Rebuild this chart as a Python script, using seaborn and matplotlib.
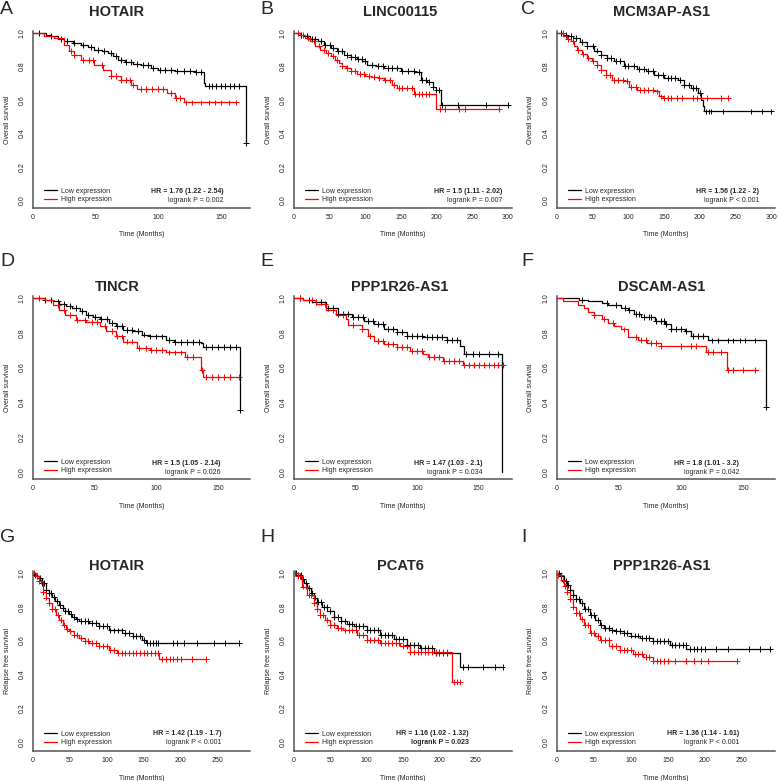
import numpy as np
import pandas as pd
import seaborn as sns
from matplotlib import pyplot as plt
from matplotlib.lines import Line2D

sns.set_style('white')
plt.rcParams['font.family'] = ['Liberation Sans', 'DejaVu Sans']

# ---- step curves (time in months, survival) and censor times ----
a_low_t = [0, 10, 14, 20, 25, 32, 38, 44, 49, 55, 60, 64, 68, 73, 80, 86, 94, 100, 113, 129, 136, 137, 170]
a_low_s = [1.0, 0.99, 0.98, 0.965, 0.95, 0.94, 0.93, 0.915, 0.90, 0.89, 0.88, 0.86, 0.84, 0.824, 0.815, 0.81, 0.79, 0.78, 0.774, 0.764, 0.70, 0.684, 0.34]
a_low_c = [5, 14, 22, 27, 33, 40, 46, 52, 57, 62, 66, 70, 74, 78, 83, 88, 92, 96, 101, 105, 110, 115, 120, 125, 130, 134, 140, 143, 146, 150, 153, 157, 160, 164, 170]
a_high_t = [0, 9, 17, 25, 29, 33, 38, 49, 56, 62, 70, 78, 83, 107, 113, 120, 162]
a_high_s = [1.0, 0.985, 0.97, 0.93, 0.89, 0.87, 0.84, 0.81, 0.776, 0.744, 0.72, 0.69, 0.664, 0.64, 0.61, 0.584, 0.584]
a_high_c = [30, 33, 40, 45, 48, 55, 62, 66, 70, 74, 77, 80, 86, 90, 95, 100, 104, 110, 114, 117, 122, 127, 134, 140, 145, 150, 156, 162]

b_low_t = [0, 8, 14, 22, 33, 42, 52, 60, 70, 80, 89, 96, 103, 115, 127, 150, 169, 178, 187, 195, 199, 206, 300]
b_low_s = [1.0, 0.99, 0.98, 0.965, 0.95, 0.93, 0.91, 0.89, 0.87, 0.855, 0.844, 0.83, 0.81, 0.80, 0.79, 0.774, 0.764, 0.72, 0.704, 0.676, 0.66, 0.57, 0.57]
b_low_c = [10, 18, 25, 30, 38, 44, 50, 55, 62, 68, 74, 80, 86, 90, 95, 100, 110, 118, 125, 132, 138, 145, 152, 160, 168, 175, 180, 185, 190, 195, 200, 204, 208, 230, 270, 300]
b_high_t = [0, 9, 16, 23, 30, 37, 45, 52, 58, 63, 68, 73, 80, 89, 100, 108, 120, 127, 138, 145, 169, 199, 288]
b_high_s = [1.0, 0.99, 0.97, 0.95, 0.925, 0.90, 0.88, 0.86, 0.84, 0.82, 0.80, 0.79, 0.77, 0.756, 0.745, 0.736, 0.728, 0.72, 0.69, 0.67, 0.634, 0.544, 0.544]
b_high_c = [5, 12, 20, 28, 35, 42, 48, 55, 60, 68, 75, 80, 85, 92, 98, 105, 112, 120, 128, 135, 140, 148, 152, 158, 165, 170, 175, 180, 185, 190, 205, 212, 232, 240, 288]

c_low_t = [0, 9, 16, 23, 32, 42, 52, 61, 70, 80, 94, 112, 125, 136, 150, 169, 178, 187, 197, 201, 204, 206, 300]
c_low_s = [1.0, 0.99, 0.98, 0.97, 0.945, 0.92, 0.895, 0.87, 0.85, 0.83, 0.804, 0.786, 0.77, 0.75, 0.73, 0.72, 0.69, 0.67, 0.64, 0.60, 0.564, 0.53, 0.53]
c_low_c = [5, 12, 20, 27, 35, 42, 50, 56, 62, 70, 76, 82, 88, 95, 100, 108, 115, 122, 128, 135, 142, 148, 155, 160, 165, 172, 178, 185, 190, 195, 200, 208, 212, 216, 232, 272, 287, 300]
c_high_t = [0, 9, 14, 19, 24, 28, 35, 42, 49, 56, 62, 68, 77, 94, 101, 112, 136, 143, 148, 239]
c_high_s = [1.0, 0.98, 0.965, 0.95, 0.925, 0.90, 0.875, 0.85, 0.83, 0.81, 0.78, 0.75, 0.72, 0.71, 0.676, 0.66, 0.65, 0.62, 0.61, 0.61]
c_high_c = [8, 15, 22, 30, 36, 44, 50, 56, 62, 68, 74, 80, 86, 92, 98, 104, 110, 116, 122, 128, 134, 140, 146, 150, 155, 160, 168, 175, 190, 196, 210, 230, 239]

d_low_t = [0, 10, 16, 21, 27, 32, 38, 43, 49, 54, 62, 67, 73, 81, 88, 95, 108, 114, 136, 138, 168]
d_low_s = [1.0, 0.99, 0.98, 0.967, 0.955, 0.942, 0.925, 0.904, 0.89, 0.879, 0.856, 0.837, 0.817, 0.808, 0.79, 0.779, 0.76, 0.748, 0.74, 0.72, 0.356]
d_low_c = [10, 15, 20, 25, 30, 35, 40, 45, 50, 55, 60, 64, 68, 72, 76, 80, 85, 90, 95, 100, 105, 110, 115, 120, 125, 130, 135, 140, 145, 150, 155, 160, 165, 168]
d_high_t = [0, 10, 16, 21, 26, 35, 43, 54, 59, 67, 73, 84, 95, 108, 123, 136, 138, 167]
d_high_s = [1.0, 0.987, 0.962, 0.933, 0.904, 0.875, 0.86, 0.84, 0.808, 0.779, 0.75, 0.712, 0.70, 0.687, 0.66, 0.587, 0.548, 0.548]
d_high_c = [5, 20, 25, 30, 36, 42, 48, 52, 58, 64, 68, 72, 76, 80, 86, 92, 96, 100, 105, 110, 115, 120, 125, 130, 137, 140, 145, 150, 155, 160, 167]

e_low_t = [0, 7, 15, 26, 36, 47, 57, 65, 73, 84, 92, 105, 124, 135, 138, 169]
e_low_s = [1.0, 0.99, 0.977, 0.94, 0.91, 0.89, 0.87, 0.85, 0.823, 0.807, 0.784, 0.774, 0.759, 0.726, 0.678, 0.0]
e_low_c = [5, 12, 18, 22, 28, 32, 36, 40, 44, 48, 52, 56, 60, 64, 68, 72, 76, 80, 84, 88, 92, 96, 100, 104, 108, 112, 116, 120, 124, 128, 132, 140, 145, 150, 158, 166]
e_high_t = [0, 7, 18, 26, 34, 42, 44, 55, 60, 65, 73, 84, 94, 105, 109, 121, 137, 170]
e_high_s = [1.0, 0.99, 0.967, 0.93, 0.90, 0.88, 0.846, 0.823, 0.78, 0.755, 0.736, 0.717, 0.697, 0.678, 0.659, 0.64, 0.615, 0.615]
e_high_c = [5, 15, 25, 32, 40, 48, 55, 62, 68, 72, 76, 80, 84, 88, 92, 96, 100, 104, 110, 114, 118, 122, 126, 130, 134, 138, 142, 146, 150, 154, 158, 162, 166, 170]

f_low_t = [0, 18, 25, 36, 41, 52, 57, 62, 68, 79, 87, 92, 103, 108, 122, 169]
f_low_s = [1.0, 0.987, 0.98, 0.973, 0.958, 0.942, 0.929, 0.91, 0.89, 0.87, 0.85, 0.823, 0.808, 0.78, 0.756, 0.375]
f_low_c = [20, 40, 48, 55, 58, 64, 66, 70, 74, 76, 80, 84, 86, 88, 92, 96, 100, 104, 110, 114, 118, 125, 130, 138, 142, 148, 152, 160, 169]
f_high_t = [0, 5, 17, 22, 25, 30, 36, 41, 46, 52, 57, 65, 73, 84, 120, 137, 162]
f_high_s = [1.0, 0.98, 0.96, 0.94, 0.92, 0.90, 0.88, 0.858, 0.838, 0.819, 0.775, 0.76, 0.742, 0.723, 0.69, 0.587, 0.587]
f_high_c = [30, 38, 45, 54, 64, 68, 72, 76, 80, 84, 100, 108, 112, 122, 126, 132, 138, 142, 150, 160]

g_low_t = [0, 1, 4, 8, 12, 17, 21, 26, 30, 35, 40, 44, 49, 53, 58, 62, 76, 90, 103, 121, 135, 148, 153, 279]
g_low_s = [1.0, 0.99, 0.98, 0.97, 0.94, 0.90, 0.88, 0.86, 0.835, 0.81, 0.79, 0.773, 0.755, 0.74, 0.725, 0.714, 0.704, 0.684, 0.66, 0.645, 0.625, 0.606, 0.586, 0.586]
g_low_c = [3, 6, 9, 12, 15, 18, 22, 25, 28, 32, 36, 40, 44, 48, 52, 56, 60, 65, 70, 75, 80, 85, 90, 95, 100, 105, 110, 115, 120, 125, 130, 135, 140, 145, 150, 155, 158, 162, 166, 170, 190, 195, 205, 222, 245, 260, 279]
g_high_t = [0, 4, 8, 13, 17, 22, 26, 31, 35, 40, 45, 49, 55, 62, 70, 76, 90, 103, 114, 171, 234]
g_high_s = [1.0, 0.98, 0.95, 0.89, 0.855, 0.82, 0.785, 0.75, 0.72, 0.69, 0.67, 0.655, 0.635, 0.615, 0.60, 0.586, 0.566, 0.546, 0.527, 0.493, 0.493]
g_high_c = [2, 5, 8, 11, 14, 18, 22, 26, 30, 34, 38, 42, 46, 50, 55, 60, 65, 70, 75, 80, 85, 90, 95, 100, 105, 110, 115, 120, 125, 130, 135, 140, 145, 150, 155, 160, 165, 170, 175, 180, 185, 190, 195, 200, 215, 234]

h_low_t = [0, 5, 10, 14, 18, 23, 28, 32, 39, 46, 55, 64, 73, 82, 100, 119, 137, 155, 173, 192, 228, 287]
h_low_s = [1.0, 0.99, 0.965, 0.94, 0.91, 0.88, 0.855, 0.83, 0.80, 0.773, 0.74, 0.714, 0.70, 0.684, 0.665, 0.635, 0.611, 0.576, 0.556, 0.527, 0.444, 0.444]
h_low_c = [3, 6, 9, 13, 17, 21, 25, 29, 33, 37, 41, 45, 50, 55, 60, 65, 70, 75, 80, 85, 90, 95, 100, 105, 110, 115, 120, 125, 130, 135, 140, 145, 150, 155, 160, 165, 170, 175, 180, 185, 190, 195, 200, 205, 210, 232, 240, 260, 277, 287]
h_high_t = [0, 5, 11, 18, 27, 32, 36, 43, 50, 59, 68, 87, 100, 119, 146, 160, 217, 228]
h_high_s = [1.0, 0.98, 0.92, 0.87, 0.82, 0.785, 0.75, 0.72, 0.69, 0.675, 0.66, 0.635, 0.605, 0.586, 0.566, 0.532, 0.353, 0.353]
h_high_c = [2, 5, 8, 12, 16, 20, 24, 28, 32, 36, 40, 45, 50, 55, 60, 65, 70, 75, 80, 85, 90, 95, 100, 105, 110, 115, 120, 125, 130, 135, 140, 145, 150, 155, 160, 165, 170, 175, 180, 185, 190, 195, 200, 205, 210, 220, 224, 228]

i_low_t = [0, 4, 9, 13, 17, 22, 26, 31, 37, 44, 51, 58, 64, 71, 80, 90, 100, 112, 130, 153, 175, 288]
i_low_s = [1.0, 0.98, 0.955, 0.93, 0.90, 0.87, 0.845, 0.82, 0.785, 0.75, 0.72, 0.69, 0.675, 0.665, 0.655, 0.645, 0.63, 0.615, 0.596, 0.576, 0.55, 0.55]
i_low_c = [3, 6, 9, 12, 15, 18, 22, 26, 30, 34, 38, 42, 46, 50, 55, 60, 65, 70, 75, 80, 85, 90, 95, 100, 105, 110, 115, 120, 125, 130, 135, 140, 145, 150, 155, 160, 165, 170, 174, 180, 185, 190, 195, 200, 215, 232, 260, 275, 288]
i_high_t = [0, 1, 6, 10, 13, 17, 22, 26, 31, 37, 44, 51, 58, 71, 85, 103, 117, 130, 243]
i_high_s = [1.0, 0.99, 0.96, 0.925, 0.89, 0.845, 0.80, 0.765, 0.73, 0.69, 0.645, 0.625, 0.606, 0.566, 0.546, 0.523, 0.503, 0.48, 0.48]
i_high_c = [2, 5, 8, 11, 14, 18, 22, 26, 30, 34, 38, 42, 46, 50, 55, 60, 65, 70, 75, 80, 85, 90, 95, 100, 105, 110, 115, 120, 125, 130, 135, 140, 145, 150, 160, 175, 185, 195, 205, 243]

letters = ['A', 'B', 'C', 'D', 'E', 'F', 'G', 'H', 'I']
genes = ['HOTAIR', 'LINC00115', 'MCM3AP-AS1', 'TINCR', 'PPP1R26-AS1', 'DSCAM-AS1',
         'HOTAIR', 'PCAT6', 'PPP1R26-AS1']
hr_text = ['HR = 1.76 (1.22 - 2.54)', 'HR = 1.5 (1.11 - 2.02)', 'HR = 1.56 (1.22 - 2)',
           'HR = 1.5 (1.05 - 2.14)', 'HR = 1.47 (1.03 - 2.1)', 'HR = 1.8 (1.01 - 3.2)',
           'HR = 1.42 (1.19 - 1.7)', 'HR = 1.16 (1.02 - 1.32)', 'HR = 1.36 (1.14 - 1.61)']
p_text = ['logrank P = 0.002', 'logrank P = 0.007', 'logrank P < 0.001',
          'logrank P = 0.026', 'logrank P = 0.034', 'logrank P = 0.042',
          'logrank P < 0.001', 'logrank P = 0.023', 'logrank P < 0.001']
y_labels = ['Overall survival'] * 6 + ['Relapse free survival'] * 3
x_ticks_list = [[0, 50, 100, 150], list(range(0, 301, 50)), list(range(0, 301, 50)),
                [0, 50, 100, 150], [0, 50, 100, 150], [0, 50, 100, 150],
                list(range(0, 251, 50)), list(range(0, 251, 50)), list(range(0, 251, 50))]
x_max = [173, 306, 305, 176, 177, 176, 294, 300, 295]
hr_x = [152, 292, 283, 152, 153, 147, 255, 240, 247]

curves = [
    (a_low_t, a_low_s, a_low_c, a_high_t, a_high_s, a_high_c),
    (b_low_t, b_low_s, b_low_c, b_high_t, b_high_s, b_high_c),
    (c_low_t, c_low_s, c_low_c, c_high_t, c_high_s, c_high_c),
    (d_low_t, d_low_s, d_low_c, d_high_t, d_high_s, d_high_c),
    (e_low_t, e_low_s, e_low_c, e_high_t, e_high_s, e_high_c),
    (f_low_t, f_low_s, f_low_c, f_high_t, f_high_s, f_high_c),
    (g_low_t, g_low_s, g_low_c, g_high_t, g_high_s, g_high_c),
    (h_low_t, h_low_s, h_low_c, h_high_t, h_high_s, h_high_c),
    (i_low_t, i_low_s, i_low_c, i_high_t, i_high_s, i_high_c),
]

pal = {'Low expression': 'black', 'High expression': 'red'}

# layout in pixels
W, H = 778, 781
row_one = [33, 298, 573]      # y pixel of survival 1.0
row_zero = [200, 472, 742]    # y pixel of survival 0.0
row_axis = [208, 479, 751]    # y pixel of the x axis line
col_left = [33, 294, 557]
col_right = [250, 512, 775]
title_x = [117, 400, 662]
title_y = [12, 287, 566]
letter_x = [0, 260, 521]
letter_y = [10, 262, 537]


def step_frame(t, s, group):
    return pd.DataFrame({'time': t, 'surv': s, 'group': group})


def censor_frame(t, s, c, group):
    idx = np.searchsorted(np.array(t), np.array(c), side='right') - 1
    return pd.DataFrame({'time': c, 'surv': np.array(s)[idx], 'group': group})


fig = plt.figure(figsize=(W / 100, H / 100), dpi=100)

for k in range(9):
    r, cidx = divmod(k, 3)
    lt, ls, lc, ht, hs, hc = curves[k]
    unit = row_zero[r] - row_one[r]
    ybot = -(row_axis[r] - row_zero[r]) / unit
    top_px = row_one[r] - 0.01 * unit
    ax_w = col_right[cidx] - col_left[cidx]
    ax_h = row_axis[r] - top_px
    ax = fig.add_axes([col_left[cidx] / W, 1 - row_axis[r] / H, ax_w / W, ax_h / H])

    steps = pd.concat([step_frame(lt, ls, 'Low expression'), step_frame(ht, hs, 'High expression')])
    cens = pd.concat([censor_frame(lt, ls, lc, 'Low expression'), censor_frame(ht, hs, hc, 'High expression')])

    sns.lineplot(data=steps, x='time', y='surv', hue='group', palette=pal, estimator=None,
                 drawstyle='steps-post', linewidth=0.9, legend=False, ax=ax)
    sns.scatterplot(data=cens, x='time', y='surv', hue='group', palette=pal, marker='+',
                    s=18, linewidth=0.7, legend=False, ax=ax, clip_on=False)

    ax.set_xlim(0, x_max[k])
    ax.set_ylim(ybot, 1.01)
    for side in ['top', 'right']:
        ax.spines[side].set_visible(False)
    for side in ['left', 'bottom']:
        ax.spines[side].set_color('#555555')
        ax.spines[side].set_linewidth(1.1)
    ax.set_xticks(x_ticks_list[k])
    ax.set_xticklabels([str(v) for v in x_ticks_list[k]])
    yt = [0, 0.2, 0.4, 0.6, 0.8, 1.0]
    ax.set_yticks(yt)
    ax.set_yticklabels(['%.1f' % v for v in yt], rotation=90, va='center')
    ax.tick_params(axis='both', labelsize=5, length=2, width=0.6, color='#333333',
                   labelcolor='#222222', direction='out')
    ax.tick_params(axis='x', pad=2.5)
    ax.tick_params(axis='y', pad=3.5)

    ax.set_xlabel('Time (Months)', fontsize=5, color='#222222')
    ax.xaxis.set_label_coords(0.5, -27 / ax_h)
    ax.xaxis.label.set_verticalalignment('center')
    ax.set_ylabel(y_labels[k], fontsize=5, color='#222222')
    ax.yaxis.set_label_coords(-26 / ax_w, 0.5)
    ax.yaxis.label.set_verticalalignment('center')

    handles = [Line2D([], [], color='black', lw=0.9), Line2D([], [], color='red', lw=0.9)]
    ax.legend(handles, ['Low expression', 'High expression'], loc='lower left',
              bbox_to_anchor=(11 / ax_w, 5 / ax_h), frameon=False, fontsize=5,
              handlelength=1.9, handletextpad=0.6, labelspacing=0.2,
              borderpad=0, borderaxespad=0)

    ax.text(hr_x[k], 0.048, hr_text[k], fontsize=5, fontweight='bold', ha='right', va='center')
    ax.text(hr_x[k], 0.0, p_text[k], fontsize=5, ha='right', va='center',
            fontweight='bold' if k == 7 else 'normal')

    fig.text(title_x[cidx] / W, 1 - title_y[r] / H, genes[k], fontsize=10.5,
             fontweight='bold', ha='center', va='center')
    fig.text(letter_x[cidx] / W, 1 - letter_y[r] / H, letters[k], fontsize=14,
             ha='left', va='center')

fig.savefig('out.png', dpi=100)
